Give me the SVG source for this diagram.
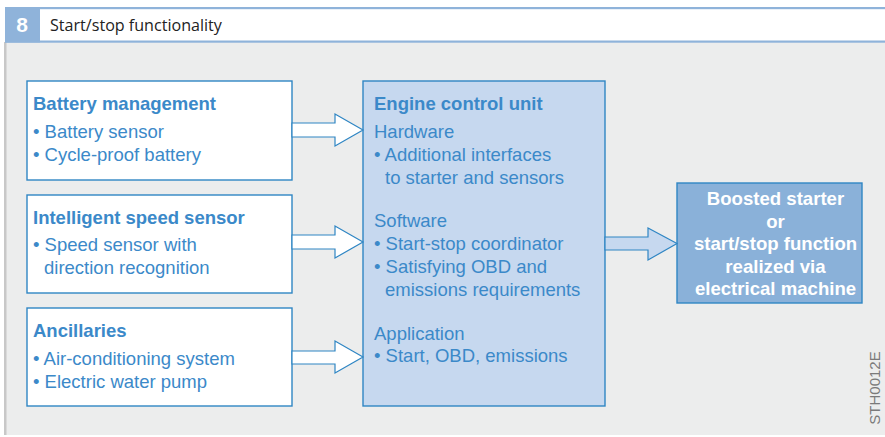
<svg xmlns="http://www.w3.org/2000/svg" width="885" height="437" viewBox="0 0 885 437">
<style>
  .box{fill:#ffffff;stroke:#2f86c4;stroke-width:1.4}
  .ecu{fill:#c6d8ef;stroke:#2f86c4;stroke-width:1.4}
  .out{fill:#8ab1d9;stroke:#2f86c4;stroke-width:1.4}
  .t{font-family:"Liberation Sans",Arial,sans-serif;font-size:18.5px;fill:#3b89c9}
  .b{font-weight:bold}
  .w{font-family:"Liberation Sans",Arial,sans-serif;font-size:18.6px;font-weight:bold;fill:#ffffff;text-anchor:middle}
  .arr{fill:#ffffff;stroke:#2f86c4;stroke-width:1.2;stroke-linejoin:miter}
  .arr2{fill:#c6d8ef;stroke:#2f86c4;stroke-width:1.2}
</style>
<rect x="0" y="0" width="885" height="437" fill="#ffffff"/>
<rect x="5" y="42" width="880" height="393" fill="#eceded"/>
<rect x="4" y="42" width="2.5" height="393" fill="#c8c8c8"/>
<g id="header">
  <rect x="5" y="7" width="880" height="2.2" fill="#8fb3da"/>
  <rect x="5" y="40.5" width="880" height="2.2" fill="#8fb3da"/>
  <rect x="5" y="7" width="35" height="35.5" fill="#8fb3da"/>
  <text x="22" y="32" font-family="Liberation Sans,Arial,sans-serif" font-size="21" font-weight="bold" fill="#ffffff" text-anchor="middle">8</text>
  <text x="50" y="30.5" font-family="Open Sans,Liberation Sans,sans-serif" font-size="16.1" fill="#222222">Start/stop functionality</text>
</g>
<g id="battery">
  <rect class="box" x="27" y="81" width="265" height="99"/>
  <text class="t b" x="33" y="110">Battery management</text>
  <text class="t" x="33" y="138">• Battery sensor</text>
  <text class="t" x="33" y="161">• Cycle-proof battery</text>
</g>
<g id="speed">
  <rect class="box" x="27" y="195" width="265" height="98"/>
  <text class="t b" x="33" y="224">Intelligent speed sensor</text>
  <text class="t" x="33" y="251">• Speed sensor with</text>
  <text class="t" x="44" y="274">direction recognition</text>
</g>
<g id="ancillaries">
  <rect class="box" x="27" y="308" width="265" height="98"/>
  <text class="t b" x="33" y="337">Ancillaries</text>
  <text class="t" x="33" y="365">• Air-conditioning system</text>
  <text class="t" x="33" y="388">• Electric water pump</text>
</g>
<g id="ecu">
  <rect class="ecu" x="363" y="81" width="242" height="325"/>
  <text class="t b" x="374" y="110">Engine control unit</text>
  <text class="t" x="374" y="138">Hardware</text>
  <text class="t" x="374" y="161">• Additional interfaces</text>
  <text class="t" x="385" y="184">to starter and sensors</text>
  <text class="t" x="374" y="227">Software</text>
  <text class="t" x="374" y="250">• Start-stop coordinator</text>
  <text class="t" x="374" y="273">• Satisfying OBD and</text>
  <text class="t" x="385" y="296">emissions requirements</text>
  <text class="t" x="374" y="340">Application</text>
  <text class="t" x="374" y="362">• Start, OBD, emissions</text>
</g>
<g id="output">
  <rect class="out" x="677" y="183" width="185" height="120"/>
  <text class="w" x="775.5" y="205">Boosted starter</text>
  <text class="w" x="775.5" y="228">or</text>
  <text class="w" x="775.5" y="250">start/stop function</text>
  <text class="w" x="775.5" y="273">realized via</text>
  <text class="w" x="775.5" y="295">electrical machine</text>
</g>
<g id="connectors">
  <path class="arr" d="M292,123 H335 V114 L363,130 L335,146 V137 H292 Z"/>
  <path class="arr" d="M292,235 H335 V226 L363,242 L335,258 V249 H292 Z"/>
  <path class="arr" d="M292,351 H335 V341 L363,357 L335,373 V364 H292 Z"/>
  <path class="arr2" d="M605,237 H648 V228 L677,243.5 L648,260 V250 H605 Z"/>
</g>
<text x="880" y="388" font-family="Liberation Sans,Arial,sans-serif" font-size="15" fill="#7a7a7a" text-anchor="middle" transform="rotate(-90 880 388)">STH0012E</text>
</svg>
